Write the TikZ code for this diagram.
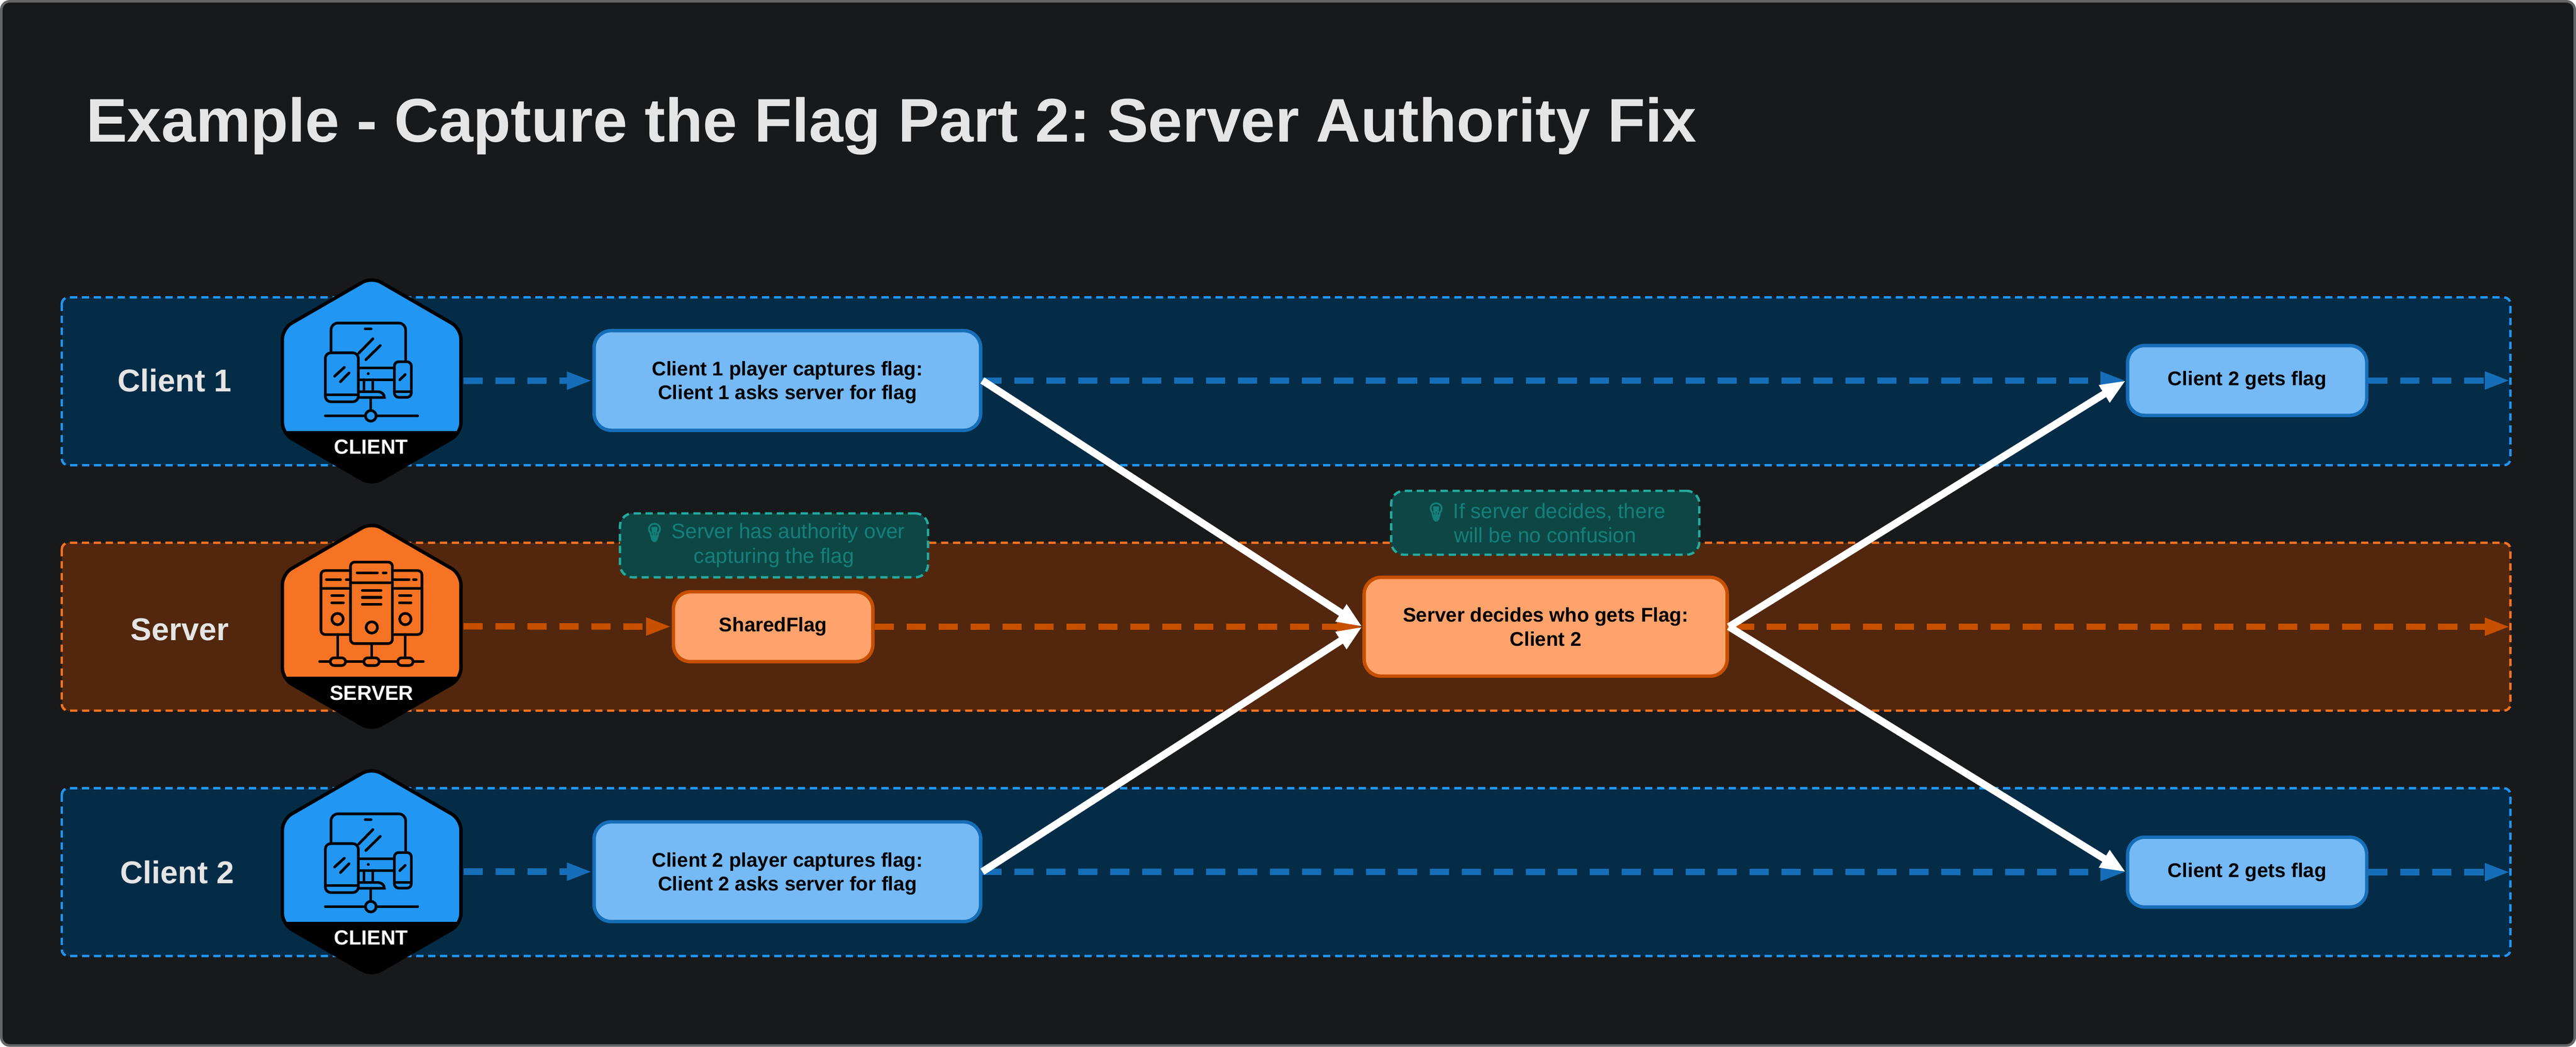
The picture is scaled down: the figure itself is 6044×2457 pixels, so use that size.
\documentclass[tikz,border=0pt]{standalone}
\usepackage{fontspec}
\usetikzlibrary{arrows.meta}
\setmainfont{Liberation Sans}
\newfontfamily\emojifont[FakeBold=6]{Noto Emoji}
\newcommand{\bulb}{{\emojifont\fontsize{4.2}{5.7}\selectfont 💡}}
\frenchspacing

\definecolor{pagedark}{HTML}{18191B}
\definecolor{pageedge}{HTML}{666666}
\definecolor{titlegrey}{HTML}{E5E5E5}
\definecolor{clientblue}{HTML}{2196F3}
\definecolor{clientlanefill}{HTML}{042C46}
\definecolor{clientedge}{HTML}{166EB8}
\definecolor{clientbox}{HTML}{75B9F5}
\definecolor{serverorange}{HTML}{F57322}
\definecolor{serverlanefill}{HTML}{52270D}
\definecolor{serveredge}{HTML}{C74F00}
\definecolor{serverbox}{HTML}{FFA26B}
\definecolor{noteedge}{HTML}{24AB9F}
\definecolor{notefill}{HTML}{0D4645}
\definecolor{notetext}{HTML}{14807A}

\newcommand{\hexpath}{(0,-244) -- (209.5,-123) -- (209.5,123) -- (0,244) -- (-209.5,123) -- (-209.5,-123) -- cycle}

\tikzset{
  lane/.style={line width=0.55pt, dash pattern=on 1.7pt off 1.1pt, rounded corners=1.5pt},
  clientlane/.style={lane, draw=clientblue, fill=clientlanefill},
  serverlane/.style={lane, draw=serverorange, fill=serverlanefill},
  lanelabel/.style={text=titlegrey, font=\bfseries\fontsize{7.4}{8.8}\selectfont},
  flowbox/.style={draw, line width=0.8pt, rounded corners=4pt, align=center, inner sep=0pt, text=black, font=\bfseries\fontsize{4.65}{5.6}\selectfont},
  twolines/.style={text depth=0pt},
  clientbox/.style={flowbox, draw=clientedge, fill=clientbox},
  serverbox/.style={flowbox, draw=serveredge, fill=serverbox},
  notebox/.style={draw=noteedge, fill=notefill, line width=0.55pt, dash pattern=on 1.7pt off 1.1pt, rounded corners=3pt, align=center, inner sep=0pt, text=notetext, font=\fontsize{4.9}{5.7}\selectfont},
  hexport/.style={minimum width=42.7pt, minimum height=48pt, inner sep=0pt},
  clientflow/.style={draw=clientedge, line width=1.5pt, dash pattern=on 4.5pt off 3pt, -{Triangle[length=6pt,width=3.8pt]}},
  serverflow/.style={draw=serveredge, line width=1.5pt, dash pattern=on 4.5pt off 3pt, -{Triangle[length=6pt,width=3.8pt]}},
  decision/.style={draw=white, line width=1.7pt, -{Triangle[length=6pt,width=4.4pt]}},
  icon/.style={line width=0.62pt, line cap=round},
  badgetext/.style={text=white, inner sep=0pt, font=\bfseries\fontsize{4.8}{5.8}\selectfont},
  clientbadge/.pic={
    \fill [clientblue, rounded corners=2.5pt] \hexpath;
    \begin{scope}
      \clip [rounded corners=2.5pt] \hexpath;
      \fill [black] (-220,118) rectangle (220,260);
    \end{scope}
    \draw [line width=0.8pt, rounded corners=2.5pt] \hexpath;
    %monitor
    \draw [icon, rounded corners=1.6pt] (-95.3,-68.6) -- (-95.3,-135.8) -- (79.7,-135.8) -- (79.7,-48);
    \draw [icon] (-15.3,-122) -- (-1.3,-122);
    \draw [icon] (-30.3,-65) -- (3,-99);
    \draw [icon] (-13.7,-49.7) -- (20.3,-83);
    \draw [icon] (-28.7,-30.7) -- (50,-30.7);
    \draw [icon] (-28.7,-3) -- (50,-3);
    \fill (-8,-17) circle (3.4);
    \draw [icon] (-18,-3) -- (-18,22);
    \draw [icon] (3,-3) -- (3,22);
    \draw [icon] (-28.7,25.4) -- (14,25.4) .. controls (24,25.4) and (29.7,31) .. (29.7,39) -- (-28.7,39);
    %tablet
    \draw [icon, rounded corners=1.3pt] (-108.7,-66) rectangle (-31.3,49);
    \draw [icon] (-108.7,33) -- (-31.3,33);
    \draw [icon] (-87,-11) -- (-64,-31.8);
    \draw [icon] (-73.3,2) -- (-53,-18.7);
    %phone
    \draw [icon, rounded corners=1pt] (53.3,-45) rectangle (93,38.5);
    \draw [icon] (53.3,25) -- (93,25);
    \draw [icon] (66,-2.5) -- (78.7,-15);
    %network
    \draw [icon] (-2,39) -- (-2,69);
    \draw [icon] (-108.7,82) -- (-14.5,82);
    \draw [icon] (10.5,82) -- (108,82);
    \draw [icon] (-2,82) circle (12.5);
    \node [badgetext] (-label) at (-1,155) {CLIENT};
  },
  serverbadge/.pic={
    \fill [serverorange, rounded corners=2.5pt] \hexpath;
    \begin{scope}
      \clip [rounded corners=2.5pt] \hexpath;
      \fill [black] (-220,118) rectangle (220,260);
    \end{scope}
    \draw [line width=0.8pt, rounded corners=2.5pt] \hexpath;
    %side racks
    \draw [icon, rounded corners=1pt] (-49.7,-130.9) -- (-119,-130.9) -- (-119,19.3) -- (-49.7,19.3);
    \draw [icon, rounded corners=1pt] (48.7,-130.9) -- (118,-130.9) -- (118,19.3) -- (48.7,19.3);
    \draw [icon] (-119,-88.9) -- (-49.7,-88.9);
    \draw [icon] (48.7,-88.9) -- (118,-88.9);
    \draw [icon] (-106.3,-109.5) -- (-73,-109.5);
    \draw [icon] (-59.7,-109.5) -- (-53,-109.5);
    \draw [icon] (52,-109.5) -- (88,-109.5);
    \draw [icon] (98,-109.5) -- (104.7,-109.5);
    \foreach \rowy in {-72.3,-55} {
      \draw [icon] (-93.7,\rowy) -- (-66.3,\rowy);
      \draw [icon] (65.3,\rowy) -- (92.3,\rowy);
    }
    \draw [icon] (-80,-17) circle (13.3);
    \draw [icon] (79,-17) circle (13.3);
    %middle rack
    \draw [icon, rounded corners=1pt] (-49.7,-150.8) rectangle (48.7,40.6);
    \draw [icon] (-49.7,-102.6) -- (48.7,-102.6);
    \draw [icon] (-34.3,-125.7) -- (13.7,-125.7);
    \draw [icon] (27,-125.7) -- (34,-125.7);
    \foreach \rowy in {-84,-67.8,-52} {
      \draw [icon] (-22,\rowy) -- (22,\rowy);
    }
    \draw [icon] (0.3,2.7) circle (13.3);
    %network
    \draw [icon] (-79.7,19.3) -- (-79.7,74);
    \draw [icon] (0,40.6) -- (0,74);
    \draw [icon] (79,19.3) -- (79,74);
    \draw [icon] (-122,83) -- (121.3,83);
    \foreach \pillx in {-79.2,-0.3,79.2} {
      \draw [icon, fill=serverorange, rounded corners=0.9pt] (\pillx-17.9,74) rectangle (\pillx+17.9,92);
    }
    \node [badgetext] (-label) at (0,156.7) {SERVER};
  }
}

\begin{document}
\begin{tikzpicture}[x=0.1pt,y=0.1pt,yscale=-1,xscale=1]

\useasboundingbox (0,0) rectangle (6044,2457);

%Shape: Rectangle [page]
\draw [draw=pageedge, fill=pagedark, line width=0.6pt, rounded corners=2pt] (3,3) rectangle (6041,2454);

% Text Node
\node [anchor=base west, inner sep=0pt, text=titlegrey, font=\bfseries\fontsize{14.47}{17}\selectfont] (pageTitle) at (200,333) {Example - Capture the Flag Part 2: Server Authority Fix};

%Shape: Rectangle [lanes]
\draw [clientlane] (145,698) rectangle (5890,1092);
\draw [serverlane] (145,1274) rectangle (5890,1668);
\draw [clientlane] (145,1850) rectangle (5890,2244);

% Text Node
\node [lanelabel] (clientOneLabel) at (410,893) {Client 1};
\node [lanelabel] (serverLabel) at (422,1478) {Server};
\node [lanelabel] (clientTwoLabel) at (416,2047) {Client 2};

%Shape: Badges
\node [hexport] (clientOneHex) at (872,894) {};
\node [hexport] (serverHex) at (872,1470) {};
\node [hexport] (clientTwoHex) at (872,2046) {};
\pic [yscale=-1] at (clientOneHex) {clientbadge};
\pic [yscale=-1] at (serverHex) {serverbadge};
\pic [yscale=-1] at (clientTwoHex) {clientbadge};

%Shape: Boxes
\node [clientbox, twolines, minimum width=90.7pt, minimum height=23.4pt] (clientOneAsk) at (1847.5,893) {Client 1 player captures flag:\\Client 1 asks server for flag};
\node [clientbox, twolines, minimum width=90.7pt, minimum height=23.4pt] (clientTwoAsk) at (1847.5,2046) {Client 2 player captures flag:\\Client 2 asks server for flag};
\node [clientbox, minimum width=56.1pt, minimum height=16.4pt] (clientOneGets) at (5272.5,893) {Client 2 gets flag};
\node [clientbox, minimum width=56.1pt, minimum height=16.4pt] (clientTwoGets) at (5272.5,2047) {Client 2 gets flag};
\node [serverbox, minimum width=46.8pt, minimum height=16.4pt] (sharedFlag) at (1814,1471) {SharedFlag};
\node [serverbox, twolines, minimum width=85.2pt, minimum height=23.2pt] (serverDecides) at (3626.5,1471) {Server decides who gets Flag:\\Client 2};

%Shape: Notes
\node [notebox, minimum width=72.3pt, minimum height=15pt] (authorityNote) at (1816,1280) {\bulb{} Server has authority over\\capturing the flag};
\node [notebox, minimum width=72.3pt, minimum height=15pt] (confusionNote) at (3625.5,1227) {\bulb{} If server decides, there\\will be no confusion};

%Free ends of the flows
\coordinate (clientOneEnd) at (5890,893);
\coordinate (serverEnd) at (5890,1471);
\coordinate (clientTwoEnd) at (5890,2047);

%Straight Lines [dashed flows]
\draw [clientflow] (clientOneHex) -- (clientOneAsk);
\draw [clientflow] (clientOneAsk) -- (clientOneGets);
\draw [clientflow] (clientOneGets) -- (clientOneEnd);
\draw [serverflow] (serverHex.east) -- (sharedFlag);
\draw [serverflow] (sharedFlag) -- (serverDecides);
\draw [serverflow, dash phase=6.1pt] (serverDecides) -- (serverEnd);
\draw [clientflow] (clientTwoHex) -- (clientTwoAsk);
\draw [clientflow] (clientTwoAsk) -- (clientTwoGets);
\draw [clientflow] (clientTwoGets) -- (clientTwoEnd);

%Straight Lines [decisions]
\draw [decision] (clientOneAsk.east) -- (serverDecides.west);
\draw [decision] (clientTwoAsk.east) -- (serverDecides.west);
\draw [decision] (serverDecides.east) -- (clientOneGets.west);
\draw [decision] (serverDecides.east) -- (clientTwoGets.west);

\end{tikzpicture}
\end{document}
